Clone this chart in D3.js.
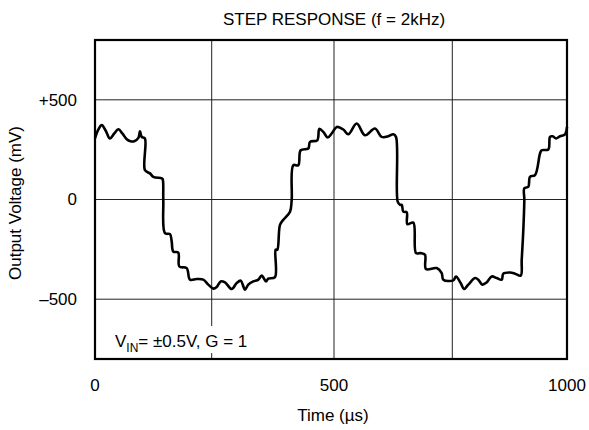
<!DOCTYPE html>
<html>
  <head>
    <meta charset="utf-8">
    <title>Step response</title>
    <script src="https://d3js.org/d3.v7.min.js"></script>
    <style>
      body { margin: 0; background: #fff; }
      text { font-family: "Liberation Sans", Arial, Helvetica, sans-serif; fill: #000; }
    </style>
  </head>
  <body>
    <div id="chart"></div>
    <script>
      // time axis (µs) and output voltage (mV)
      var timeUs = [0, 7, 14.4, 23, 32, 41, 50, 59, 68, 76, 84, 93, 96.4, 100, 107,
        107, 117.8, 124.9, 142.9, 145, 146.3, 149.9, 160.7, 164.3, 167.7, 178.4, 180.6,
        196.4, 203.5, 217.9, 232, 242.7, 253.3, 260.2, 268.4, 277.2, 290.9, 301.1, 309.3,
        318.1, 324.8, 335, 345.3, 352.2, 361, 365.7, 379.4,
        380.8, 384.1, 389.6, 396.4, 410.1, 413.5, 416.8, 427, 431.9, 447.5, 451, 465.9,
        470, 478.1, 487.1, 495.3, 505.7, 519.7, 530.2, 548, 565.5, 586.6, 600.8, 614.8,
        625.3, 631,
        634.6, 639.5, 643.1, 646.5, 653.7, 655, 667.6, 673.3, 683.3, 692.3, 694.4, 717,
        727.6, 731, 752.2, 758.1, 768.3, 775.5, 784.9, 799.5, 806.7, 815.4, 824.9, 835.8,
        846.8, 857.7, 861.2, 875.8, 886.7, 899.1,
        901.3, 904.8, 907, 907, 915.7, 919.4, 930.3, 941.2, 944.9, 959.3, 963, 968.9,
        976.1, 984.8, 995.7, 1000];
      var outputMv = [306, 350, 373, 345, 306, 330, 352, 330, 302, 292, 292, 309, 342, 314, 306,
        147, 131, 114, 106, 102, -2, -169, -174, -211, -261, -266, -336,
        -344, -402, -399, -402, -427, -447, -439, -411, -416, -449, -419, -407,
        -452, -427, -411, -402, -382, -411, -397, -389,
        -252, -252, -127, -102, -61, -2, 172, 172, 247, 256, 289, 297,
        354, 339, 311, 331, 364, 351, 327, 381, 322, 356, 314, 317,
        327, 314,
        -11, -27, -27, -61, -64, -124, -116, -269, -269, -277, -349, -344,
        -369, -402, -406, -386, -419, -449, -427, -394, -402, -427, -416, -386,
        -394, -402, -372, -366, -372, -382,
        -302, -152, -2, 56, 64, 114, 122, 231, 247, 251, 314, 317,
        306, 317, 327, 364];

      var xTicks = [0, 250, 500, 750, 1000];
      var xTickLabels = ["0", "", "500", "", "1000"];
      var yTicks = [-500, 0, 500];
      var yTickLabels = ["\u2013500", "0", "+500"];

      var width = 589;
      var height = 430;

      var svg = d3.select("#chart")
            .append("svg")
            .attr("width", width)
            .attr("height", height);

      // the scanned scope grid is not quite even, so the time scale is piecewise
      var x = d3.scaleLinear()
            .domain(xTicks)
            .range([95, 211.7, 334, 452.3, 567]);
      var y = d3.scaleLinear()
            .domain([-800, 800])
            .range([359, 40]);

      // grid
      svg.append("g")
        .selectAll("line")
        .data(xTicks.slice(1, -1))
        .enter()
        .append("line")
        .attr("x1", function(d) { return x(d); })
        .attr("x2", function(d) { return x(d); })
        .attr("y1", y(800))
        .attr("y2", y(-800))
        .style("stroke", "#222")
        .style("stroke-width", 1);

      svg.append("g")
        .selectAll("line")
        .data(yTicks)
        .enter()
        .append("line")
        .attr("x1", x(0))
        .attr("x2", x(1000))
        .attr("y1", function(d) { return y(d); })
        .attr("y2", function(d) { return y(d); })
        .style("stroke", "#222")
        .style("stroke-width", 1);

      // trace
      var pts = timeUs.map(function(t, i) { return [t, outputMv[i]]; });
      var line = d3.line()
            .curve(d3.curveCatmullRom.alpha(0.5))
            .x(function(d) { return x(d[0]); })
            .y(function(d) { return y(d[1]); });

      svg.append("path")
        .datum(pts)
        .attr("d", line)
        .style("fill", "none")
        .style("stroke", "#000")
        .style("stroke-width", 2.6)
        .style("stroke-linejoin", "round");

      // label box, covers the grid line
      svg.append("rect")
        .attr("x", 110)
        .attr("y", 326)
        .attr("width", 152)
        .attr("height", 27)
        .style("fill", "#fff");

      var note = svg.append("text")
        .attr("x", 115)
        .attr("y", 347)
        .style("font-size", "17px");
      note.append("tspan").text("V");
      note.append("tspan").attr("dy", 5).style("font-size", "12px").text("IN");
      note.append("tspan").attr("dy", -5).text("= \u00b10.5V, G = 1");

      // frame
      svg.append("rect")
        .attr("x", x(0))
        .attr("y", y(800))
        .attr("width", x(1000) - x(0))
        .attr("height", y(-800) - y(800))
        .style("fill", "none")
        .style("stroke", "#000")
        .style("stroke-width", 2.2);

      // tick labels
      svg.append("g")
        .selectAll("text")
        .data(xTicks)
        .enter()
        .append("text")
        .attr("x", function(d) { return x(d); })
        .attr("y", 391)
        .attr("text-anchor", "middle")
        .style("font-size", "17px")
        .text(function(d, i) { return xTickLabels[i]; });

      svg.append("g")
        .selectAll("text")
        .data(yTicks)
        .enter()
        .append("text")
        .attr("x", 77)
        .attr("y", function(d) { return y(d); })
        .attr("dy", "0.35em")
        .attr("text-anchor", "end")
        .style("font-size", "17px")
        .text(function(d, i) { return yTickLabels[i]; });

      // titles
      svg.append("text")
        .attr("x", 334)
        .attr("y", 25)
        .attr("text-anchor", "middle")
        .style("font-size", "17px")
        .text("STEP RESPONSE (f = 2kHz)");

      svg.append("text")
        .attr("x", 333)
        .attr("y", 421)
        .attr("text-anchor", "middle")
        .style("font-size", "17px")
        .text("Time (\u00b5s)");

      svg.append("text")
        .attr("transform", "translate(21,203) rotate(-90)")
        .attr("text-anchor", "middle")
        .style("font-size", "17px")
        .text("Output Voltage (mV)");
    </script>
  </body>
</html>
